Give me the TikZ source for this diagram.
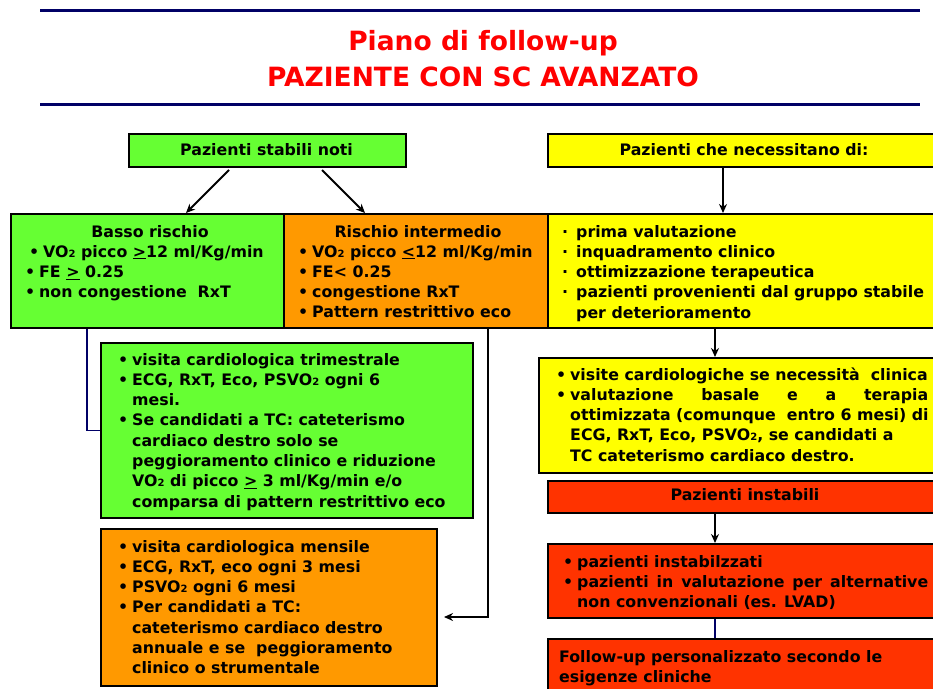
\documentclass[tikz,border=0pt]{standalone}
\usepackage{fontspec}
\setmainfont{DejaVu Sans}
\usetikzlibrary{arrows.meta}
\definecolor{grn}{HTML}{66FF33}
\definecolor{org}{HTML}{FF9900}
\definecolor{yel}{HTML}{FFFF00}
\definecolor{rd}{HTML}{FF3300}
\definecolor{navy}{HTML}{000066}
\definecolor{ttlred}{HTML}{FF0000}
\newlength\bw
\setlength\bw{14pt}
\newcommand\bl{\makebox[\bw][l]{\textbullet}}
\newcommand\sbl{\makebox[\bw][l]{·}}
\newcommand\ind{\hspace*{\bw}}
\newcommand\two{{\fontsize{10}{10}\selectfont 2}}
\begin{document}
\begin{tikzpicture}[x=1pt,y=-1pt,
  box/.style={draw=black, line width=2pt, inner sep=0pt, anchor=north west},
  txt/.style={inner sep=0pt, font=\bfseries\fontsize{15.8}{20.3}\selectfont},
  ttl/.style={inner sep=0pt, text=ttlred, font=\bfseries\fontsize{26.5}{30}\selectfont},
  arr/.style={draw=black, line width=1.8pt, -{Stealth[length=9pt,width=8pt]}},
  ln/.style={draw=navy, line width=1.8pt},
  rulestyle/.style={draw=navy, line width=3pt}]
\useasboundingbox (0,0) rectangle (933,688);
\clip (0,0) rectangle (933,688);
\fill[white] (0,0) rectangle (933,688);
% rules and title
\draw[rulestyle] (40,10) -- (920,10);
\draw[rulestyle] (40,104) -- (920,104);
\node[ttl, anchor=base] (title1) at (483,50) {Piano di follow-up};
\node[ttl, anchor=base] (title2) at (483,86) {PAZIENTE CON SC AVANZATO};
% boxes
\node[box, fill=grn, minimum width=277pt, minimum height=33pt] (stab) at (128,133) {};
\node[box, fill=yel, minimum width=394pt, minimum height=33pt] (nec) at (547,133) {};
\node[box, fill=grn, minimum width=273pt, minimum height=114pt] (basso) at (10,213) {};
\node[box, fill=org, minimum width=264pt, minimum height=114pt] (inter) at (283,213) {};
\node[box, fill=yel, minimum width=394pt, minimum height=114pt] (yel1) at (547,213) {};
\node[box, fill=grn, minimum width=372pt, minimum height=175pt] (grn2) at (100,342) {};
\node[box, fill=org, minimum width=336pt, minimum height=157pt] (org2) at (100,528) {};
\node[box, fill=yel, minimum width=405pt, minimum height=115pt] (yel2) at (538,357) {};
\node[box, fill=rd, minimum width=394pt, minimum height=32pt] (red1) at (547,480) {};
\node[box, fill=rd, minimum width=394pt, minimum height=74pt] (red2) at (547,543) {};
\node[box, fill=rd, minimum width=394pt, minimum height=70pt] (red3) at (547,638) {};
% texts
\node[txt, anchor=base] (stabt) at (266.5,155) {Pazienti stabili noti};
\node[txt, anchor=base] (nect) at (744,155) {Pazienti che necessitano di:};
\node[txt, anchor=base] (bassoh) at (150,237) {Basso rischio};
\node[txt, anchor=base west] (bassot) at (25,257) {\parbox[t]{260pt}{\raggedright
  \hspace*{4pt}\bl VO\two\ picco \underline{>}12 ml/Kg/min\\
  \bl FE \underline{>} 0.25\\
  \bl non congestione\ \ RxT}};
\node[txt, anchor=base] (interh) at (418,237) {Rischio intermedio};
\node[txt, anchor=base west] (intert) at (298,257) {\parbox[t]{260pt}{\raggedright
  \bl VO\two\ picco \underline{<}12 ml/Kg/min\\
  \bl FE< 0.25\\
  \bl congestione RxT\\
  \bl Pattern restrittivo eco}};
\node[txt, anchor=base west] (yel1t) at (562,237) {\parbox[t]{380pt}{\raggedright
  \sbl prima valutazione\\
  \sbl inquadramento clinico\\
  \sbl ottimizzazione terapeutica\\
  \sbl pazienti provenienti dal gruppo stabile\\
  \ind per deterioramento}};
\node[txt, anchor=base west] (grn2t) at (118,365) {\parbox[t]{360pt}{\raggedright
  \bl visita cardiologica trimestrale\\
  \bl ECG, RxT, Eco, PSVO\two\ ogni 6\\
  \ind mesi.\\
  \bl Se candidati a TC: cateterismo\\
  \ind cardiaco destro solo se\\
  \ind peggioramento clinico e riduzione\\
  \ind VO\two\ di picco \underline{>} 3 ml/Kg/min e/o\\
  \ind comparsa di pattern restrittivo eco}};
\node[txt, anchor=base west] (org2t) at (118,552) {\parbox[t]{320pt}{\raggedright
  \bl visita cardiologica mensile\\
  \bl ECG, RxT, eco ogni 3 mesi\\
  \bl PSVO\two\ ogni 6 mesi\\
  \bl Per candidati a TC:\\
  \ind cateterismo cardiaco destro\\
  \ind annuale e se\ \ peggioramento\\
  \ind clinico o strumentale}};
\node[txt, anchor=base west] (yel2t) at (556,380) {\parbox[t]{420pt}{\raggedright
  \bl visite cardiologiche se necessità\ \ clinica\\
  \bl \hbox to 358pt{valutazione\hfill basale\hfill e\hfill a\hfill terapia}\\
  \ind ottimizzata (comunque\ \ entro 6 mesi) di\\
  \ind ECG, RxT, Eco, PSVO\two, se candidati a\\
  \ind TC cateterismo cardiaco destro.}};
\node[txt, anchor=base] (red1t) at (745,500) {Pazienti instabili};
\node[txt, anchor=base west] (red2t) at (563,567) {\parbox[t]{380pt}{\raggedright
  \bl pazienti instabilzzati\\
  \bl \hbox to 351pt{pazienti\hfill in\hfill valutazione\hfill per\hfill alternative}\\
  \ind non convenzionali (es. LVAD)}};
\node[txt, anchor=base west] (red3t) at (559,662) {\parbox[t]{380pt}{\raggedright
  Follow-up personalizzato secondo le\\
  esigenze cliniche}};
% connectors
\draw[arr] ([xshift=-38.5pt,yshift=-2pt]stab.south) -- ([xshift=38.5pt]basso.north);
\draw[arr] ([xshift=54.5pt,yshift=-2pt]stab.south) -- ([xshift=-51pt]inter.north);
\draw[arr] ([xshift=-22pt]nec.south) -- ([xshift=-22pt]yel1.north);
\draw[arr] ([xshift=-30pt]yel1.south) -- ([xshift=-26.5pt]yel2.north);
\draw[ln] ([xshift=-60.5pt]basso.south) |- (grn2.west);
\draw[arr] ([xshift=72pt]inter.south) |- ([xshift=6pt,yshift=-9.5pt]org2.east);
\draw[arr] ([xshift=-30pt]red1.south) -- ([xshift=-30pt]red2.north);
\draw[ln] ([xshift=-30pt]red2.south) -- ([xshift=-30pt]red3.north);
\end{tikzpicture}
\end{document}
